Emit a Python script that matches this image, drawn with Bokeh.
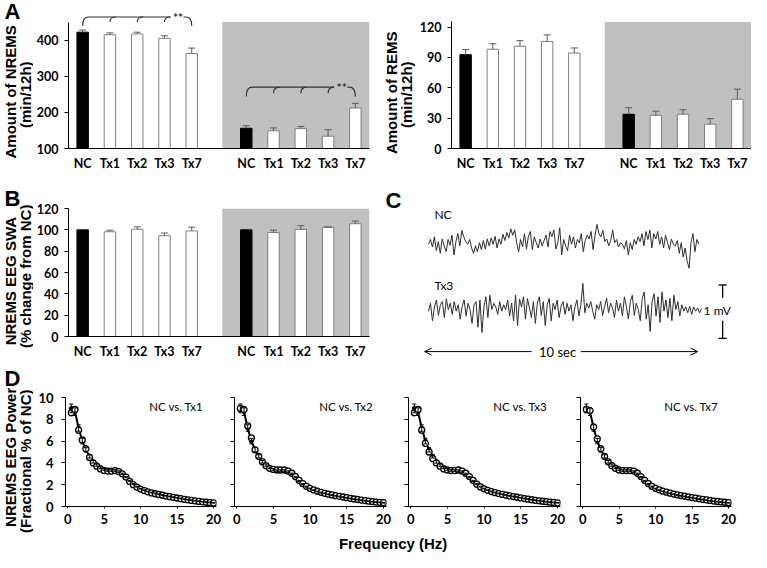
import math
import numpy as np
from bokeh.plotting import figure
from bokeh.layouts import column, row
from bokeh.models import (Range1d, FixedTicker, BoxAnnotation, Label, Whisker,
                          TeeHead, ColumnDataSource, Arrow, OpenHead)
from bokeh.core.properties import value
from bokeh.embed import file_html
from bokeh.resources import INLINE

# ---------------------------------------------------------------- data
categories = ["NC", "Tx1", "Tx2", "Tx3", "Tx7"]

nrems_light = [422, 415, 417, 405, 363]
nrems_light_sem = [6, 5, 5, 7, 15]
nrems_dark = [156, 149, 155, 134, 212]
nrems_dark_sem = [7, 8, 6, 18, 13]
nrems_ticks = [100, 200, 300, 400]

rems_light = [92.7, 98.0, 101.0, 105.7, 94.3]
rems_light_sem = [5.0, 5.5, 5.5, 6.5, 5.0]
rems_dark = [33.8, 32.8, 33.8, 24.0, 48.6]
rems_dark_sem = [6.5, 4.0, 4.5, 5.5, 10.0]
rems_ticks = [0, 30, 60, 90, 120]

swa_light = [100, 98.2, 100.6, 94.5, 99.0]
swa_light_sem = [0, 1.5, 2.2, 2.5, 3.5]
swa_dark = [100, 97.5, 100.4, 102.2, 105.7]
swa_dark_sem = [0, 2.2, 3.5, 0.6, 2.5]
swa_ticks = [0, 20, 40, 60, 80, 100, 120]

# significance brackets (NREMS): level of bracket line
sig_level_light = 464
sig_level_dark = 270

# EEG example traces (mV), 10 s epochs
nc_trace = [0.00, 0.09, -0.05, 0.14, -0.12, 0.05, -0.17, 0.10, -0.03, -0.14, 0.09, -0.02, 0.17, -0.20, 0.05, 0.20, -0.03, 0.26, 0.14, 0.05, 0.00, 0.09,
            -0.07, -0.17, -0.03, -0.14, 0.03, -0.10, 0.07, -0.09, 0.10, -0.03, 0.12, 0.00, 0.15, -0.07, 0.10, 0.00, 0.19, 0.07, 0.22, 0.12,
            0.29, 0.17, 0.27, 0.03, -0.14, 0.09, -0.05, 0.20, -0.09, 0.15, 0.24, -0.10, 0.14, 0.03, -0.07, 0.10, -0.03, 0.07, 0.17, -0.05,
            0.24, 0.14, 0.27, -0.09, 0.03, 0.31, -0.20, 0.09, -0.03, -0.12, 0.17, 0.00, 0.14, -0.07, 0.09, 0.03, 0.20, -0.14, 0.07, 0.17,
            0.10, 0.24, -0.10, 0.17, 0.37, 0.20, 0.14, 0.26, 0.05, 0.10, -0.03, 0.07, 0.27, 0.03, 0.09, -0.05, 0.03, 0.00, -0.09, 0.07,
            -0.20, 0.03, -0.10, 0.09, 0.00, 0.14, 0.05, 0.20, -0.03, 0.24, 0.09, 0.27, -0.07, 0.20, 0.10, 0.24, 0.00, 0.14, -0.07, 0.17,
            0.03, -0.10, 0.10, 0.00, -0.03, 0.07, -0.17, 0.03, -0.24, -0.07, -0.31, -0.45, 0.03, 0.20, -0.14, 0.09, 0.00]
tx3_trace = [0.00, 0.15, -0.18, 0.08, 0.21, -0.08, 0.12, 0.18, -0.12, 0.23, 0.03, 0.15, -0.06, 0.18, 0.00, 0.12, -0.15, 0.09, 0.21, -0.09,
             0.15, 0.03, -0.23, 0.12, 0.18, -0.30, 0.21, -0.40, 0.08, 0.27, -0.12, 0.30, 0.03, 0.15, 0.08, -0.06, 0.18, 0.00, 0.12, 0.03,
             0.21, -0.09, 0.15, -0.18, 0.30, -0.27, 0.23, 0.08, 0.27, -0.15, 0.24, 0.06, -0.12, 0.18, -0.23, 0.15, 0.27, -0.08, 0.18, -0.27,
             0.12, 0.24, -0.18, 0.15, 0.03, 0.21, -0.12, 0.09, 0.18, -0.06, 0.15, 0.00, 0.12, -0.18, 0.08, 0.21, -0.09, 0.12, 0.52, -0.03,
             0.15, 0.06, 0.18, 0.00, -0.15, 0.12, 0.03, 0.18, -0.08, 0.09, 0.24, -0.03, 0.15, 0.06, -0.12, 0.21, 0.00, 0.15, -0.09, 0.27,
             0.09, -0.15, 0.18, 0.30, -0.08, 0.15, 0.03, -0.18, 0.24, 0.36, -0.15, 0.12, -0.38, 0.18, 0.33, -0.09, 0.27, -0.21, 0.36, 0.00,
             0.21, -0.12, 0.24, -0.18, 0.30, 0.03, 0.18, -0.09, 0.12, 0.00, 0.08, -0.03, 0.09, -0.06, 0.08, 0.00, 0.06, -0.03, 0.05]
trace_duration_s = 10.0
scale_bar_mv = 1.0

# NREMS EEG power spectra (fractional % of NC)
freq_hz = [0.5, 1.0, 1.5, 2.0, 2.5, 3.0, 3.5, 4.0, 4.5, 5.0, 5.5, 6.0, 6.5, 7.0, 7.5, 8.0, 8.5, 9.0, 9.5, 10.0,
           10.5, 11.0, 11.5, 12.0, 12.5, 13.0, 13.5, 14.0, 14.5, 15.0, 15.5, 16.0, 16.5, 17.0, 17.5, 18.0, 18.5, 19.0, 19.5, 20.0]
power_nc = [9.0, 8.7, 7.2, 6.0, 5.2, 4.6, 4.1, 3.8, 3.55, 3.4, 3.3, 3.3, 3.3, 3.2, 3.0, 2.7, 2.35, 2.05, 1.82, 1.64,
            1.5, 1.38, 1.28, 1.2, 1.12, 1.05, 0.98, 0.92, 0.86, 0.8, 0.74, 0.68, 0.63, 0.58, 0.53, 0.48, 0.44, 0.4, 0.37, 0.34]
power_nc_sem = [0.4, 0.35, 0.3, 0.25, 0.2, 0.15, 0.12, 0.1, 0.08, 0.08, 0.07, 0.07, 0.07, 0.07, 0.06, 0.06, 0.05, 0.05, 0.04, 0.04,
                0.03, 0.03, 0.03, 0.03, 0.03, 0.03, 0.03, 0.03, 0.03, 0.03, 0.03, 0.03, 0.03, 0.03, 0.03, 0.03, 0.03, 0.03, 0.03, 0.03]
power_tx1 = [8.6, 8.9, 7.0, 6.1, 5.3, 4.5, 4.0, 3.7, 3.45, 3.3, 3.25, 3.25, 3.3, 3.2, 3.0, 2.7, 2.3, 2.0, 1.78, 1.6,
             1.46, 1.35, 1.25, 1.17, 1.1, 1.03, 0.96, 0.9, 0.84, 0.78, 0.72, 0.66, 0.61, 0.56, 0.51, 0.47, 0.43, 0.39, 0.36, 0.33]
power_tx2 = [9.0, 8.9, 7.4, 6.3, 5.2, 4.6, 4.1, 3.75, 3.5, 3.4, 3.35, 3.35, 3.35, 3.25, 3.05, 2.75, 2.4, 2.1, 1.85, 1.66,
             1.52, 1.4, 1.3, 1.21, 1.13, 1.06, 0.99, 0.93, 0.87, 0.81, 0.75, 0.69, 0.64, 0.59, 0.54, 0.49, 0.45, 0.41, 0.38, 0.35]
power_tx3 = [8.6, 8.9, 7.0, 5.8, 5.0, 4.4, 4.0, 3.7, 3.45, 3.35, 3.3, 3.3, 3.35, 3.25, 3.05, 2.75, 2.4, 2.05, 1.8, 1.62,
             1.48, 1.37, 1.27, 1.19, 1.11, 1.04, 0.97, 0.91, 0.85, 0.79, 0.73, 0.67, 0.62, 0.57, 0.52, 0.48, 0.44, 0.4, 0.37, 0.34]
power_tx7 = [8.9, 8.8, 7.3, 6.2, 5.3, 4.6, 4.1, 3.75, 3.5, 3.35, 3.3, 3.3, 3.3, 3.25, 3.05, 2.75, 2.4, 2.1, 1.85, 1.67,
             1.53, 1.41, 1.31, 1.22, 1.14, 1.07, 1.0, 0.94, 0.88, 0.82, 0.76, 0.7, 0.65, 0.6, 0.55, 0.5, 0.46, 0.42, 0.39, 0.36]
power_ticks_y = [0, 2, 4, 6, 8, 10]
freq_ticks = [0, 5, 10, 15, 20]

# ---------------------------------------------------------------- layout helpers
SX = 751 / 767
SY = 552 / 568
LABEL_FONT = "Liberation Sans"
TICK_FONT = "Lato"


def RX(v):
    return int(round(v * SX))


def RY(v):
    return int(round(v * SY))


def make_fig(box, frame, xr, yr, axes=True):
    bx0, bx1, by0, by1 = box
    fl, fr, ft, fb = frame
    kw = dict(width=RX(bx1) - RX(bx0), height=RY(by1) - RY(by0),
              x_range=Range1d(*xr), y_range=Range1d(*yr),
              output_backend="svg", toolbar_location=None,
              min_border_left=RX(fl) - RX(bx0), min_border_right=RX(bx1) - RX(fr),
              min_border_top=RY(ft) - RY(by0), min_border_bottom=RY(by1) - RY(fb),
              background_fill_color="white", border_fill_color="white",
              outline_line_color=None, frame_align=False)
    if not axes:
        kw.update(x_axis_type=None, y_axis_type=None)
    p = figure(**kw)
    p.grid.visible = False
    return p


def text_fig(box):
    """A figure whose frame is its whole box; data units are reference pixels."""
    return make_fig(box, box, (box[0], box[1]), (box[3], box[2]), axes=False)


def mapper(frame, xr, yr):
    fl, fr, ft, fb = frame

    def f(px, py):
        x = xr[0] + (px - fl) / (fr - fl) * (xr[1] - xr[0])
        y = yr[0] + (fb - py) / (fb - ft) * (yr[1] - yr[0])
        return x, y
    return f


def add_label(p, xy, text, size, bold=False, font=LABEL_FONT, align="left",
              baseline="middle", angle=0.0, color="black"):
    p.add_layout(Label(x=xy[0], y=xy[1], text=text, text_font=font,
                       text_font_size=f"{size}px",
                       text_font_style="bold" if bold else "normal",
                       text_align=align, text_baseline=baseline, angle=angle,
                       text_color=color))


def style_axes(p, size=12):
    for ax in p.axis:
        ax.axis_line_color = "black"
        ax.axis_line_width = 1
        ax.major_tick_line_color = "black"
        ax.minor_tick_line_color = None
        ax.major_label_text_font = TICK_FONT
        ax.major_label_text_font_style = "bold"
        ax.major_label_text_font_size = f"{size}px"
        ax.major_label_text_color = "black"


BAR_XR = (-0.52, 10.52)
positions = [i for i in range(5)] + [i + 6 for i in range(5)]


def bar_panel(box, frame, yr, y_axis_top, ticks, light, light_sem, dark, dark_sem):
    p = make_fig(box, frame, BAR_XR, yr)
    ymin = yr[0]
    p.add_layout(BoxAnnotation(left=5.12, right=BAR_XR[1], bottom=ymin, top=y_axis_top,
                               fill_color="#c0c0c0", fill_alpha=1.0, line_color=None,
                               level="underlay"))
    vals = list(light) + list(dark)
    sems = list(light_sem) + list(dark_sem)
    cats = categories * 2
    fills = ["black" if c == "NC" else "white" for c in cats]
    lines = ["black" if c == "NC" else "#7f7f7f" for c in cats]
    p.vbar(x=positions, top=vals, bottom=ymin, width=0.42,
           fill_color=fills, line_color=lines, line_width=1)
    keep = [i for i, s in enumerate(sems) if s > 0]
    src = ColumnDataSource(dict(x=[positions[i] for i in keep],
                                lower=[vals[i] for i in keep],
                                upper=[vals[i] + sems[i] for i in keep]))
    p.add_layout(Whisker(source=src, base="x", lower="lower", upper="upper",
                         line_color="#5a5a5a", line_width=1, lower_head=None,
                         upper_head=TeeHead(size=7, line_color="#5a5a5a", line_width=1),
                         level="overlay"))
    style_axes(p, 12.5)
    p.xaxis.ticker = FixedTicker(ticks=positions)
    p.xaxis.major_label_overrides = {pos: c for pos, c in zip(positions, cats)}
    p.xaxis.major_tick_out = 0
    p.xaxis.major_tick_in = 0
    p.xaxis.major_label_standoff = 7
    p.yaxis.ticker = FixedTicker(ticks=ticks)
    p.yaxis.bounds = (ymin, y_axis_top)
    p.yaxis.major_tick_out = 4
    p.yaxis.major_tick_in = 0
    p.yaxis.major_label_standoff = 6
    return p


def sig_bracket(p, xs, level, drop_end, drop_mid):
    dx = 0.22
    x0 = [xs[0]] + list(xs[1:4]) + [xs[4] - dx]
    y0 = [level - drop_end] + [level - drop_mid] * 3 + [level]
    x1 = [xs[0] + dx] + [x + dx for x in xs[1:4]] + [xs[4]]
    y1 = [level] * 4 + [level - drop_end]
    cx = [xs[0]] + list(xs[1:4]) + [xs[4]]
    cy = [level] * 5
    p.quadratic(x0=x0, y0=y0, x1=x1, y1=y1, cx=cx, cy=cy, line_color="#303030", line_width=1.2)
    p.segment(x0=[xs[0] + dx, xs[4] - dx - 0.08], y0=[level, level],
              x1=[xs[3] + dx, xs[4] - dx], y1=[level, level],
              line_color="#303030", line_width=1.2)
    p.text(x=[xs[3] + 0.5], y=[level], text=["**"], text_font=value(TICK_FONT),
           text_font_style="bold", text_font_size="12px", text_align="center",
           text_baseline="middle", text_color="#303030")


ROT = math.pi / 2

# ---------------------------------------------------------------- row 1 : panel A
LA1_box = (0, 34, 0, 178)
pLA1 = text_fig(LA1_box)
add_label(pLA1, (4, 11), "A", 22, bold=True)
add_label(pLA1, (10, 94), "Amount of NREMS", 15, bold=True, align="center", angle=ROT)
add_label(pLA1, (26, 97), "(min/12h)", 15, bold=True, align="center", angle=ROT)

A1_box, A1_frame, A1_yr = (34, 390, 0, 178), (68, 377, 10, 154), (100, 482)
pA1 = bar_panel(A1_box, A1_frame, A1_yr, 450, nrems_ticks,
                nrems_light, nrems_light_sem, nrems_dark, nrems_dark_sem)
sig_bracket(pA1, positions[:5], sig_level_light, 24, 14)
sig_bracket(pA1, positions[5:], sig_level_dark, 26, 17)

LA2_box = (390, 425, 0, 178)
pLA2 = text_fig(LA2_box)
add_label(pLA2, (399, 95), "Amount of REMS", 15, bold=True, align="center", angle=ROT)
add_label(pLA2, (415, 97), "(min/12h)", 15, bold=True, align="center", angle=ROT)

A2_box, A2_frame, A2_yr = (425, 767, 0, 178), (458, 767, 10, 154), (0, 136.3)
pA2 = bar_panel(A2_box, A2_frame, A2_yr, 125, rems_ticks,
                rems_light, rems_light_sem, rems_dark, rems_dark_sem)

# ---------------------------------------------------------------- row 2 : panel B
LB_box = (0, 34, 178, 375)
pLB = text_fig(LB_box)
add_label(pLB, (4, 204), "B", 22, bold=True)
add_label(pLB, (10, 289), "NREMS EEG SWA", 15, bold=True, align="center", angle=ROT)
add_label(pLB, (26, 284), "(% change from NC)", 15, bold=True, align="center", angle=ROT)

B_box, B_frame, B_yr = (34, 390, 178, 375), (68, 377, 214, 346), (0, 120)
pB = bar_panel(B_box, B_frame, B_yr, 120, swa_ticks,
               swa_light, swa_light_sem, swa_dark, swa_dark_sem)

# ---------------------------------------------------------------- row 2 : panel C
C_box = (390, 767, 178, 375)
C_frame = C_box[:]
C_T0_PX, C_PX_PER_S, C_PX_PER_MV = 433, 27.9, 55.0
C_xr = ((390 - C_T0_PX) / C_PX_PER_S, (767 - C_T0_PX) / C_PX_PER_S)
C_yr = (0, (375 - 178) / C_PX_PER_MV)
pC = make_fig(C_box, C_frame, C_xr, C_yr, axes=False)
mC = mapper(C_frame, C_xr, C_yr)
nc_base = mC(0, 251)[1]
tx3_base = mC(0, 320)[1]
t_start = mC(437, 0)[0]
t_nc = np.linspace(t_start, t_start + trace_duration_s * 0.99, len(nc_trace))
t_tx = np.linspace(t_start, t_start + trace_duration_s, len(tx3_trace))
pC.line(t_nc, np.array(nc_trace) + nc_base, line_color="#2e2e2e", line_width=1)
pC.line(t_tx, np.array(tx3_trace) + tx3_base, line_color="#2e2e2e", line_width=1)
add_label(pC, mC(393, 206), "C", 22, bold=True)
add_label(pC, mC(443, 220), "NC", 12, font=TICK_FONT)
add_label(pC, mC(443, 294), "Tx3", 12, font=TICK_FONT)
# 1 mV scale bar
sb_x, sb_bot = mC(737.5, 348)
sb_top = sb_bot + scale_bar_mv
cap = 0.15
pC.segment(x0=[sb_x, sb_x, sb_x - cap, sb_x - cap],
           y0=[sb_top, sb_bot, sb_top, sb_bot],
           x1=[sb_x, sb_x, sb_x + cap, sb_x + cap],
           y1=[sb_top - 0.24 * scale_bar_mv, sb_bot + 0.33 * scale_bar_mv, sb_top, sb_bot],
           line_color="black", line_width=1.3)
add_label(pC, (mC(732, 0)[0], (sb_top + sb_bot) / 2 + 0.02), "1 mV", 12, font=TICK_FONT, align="center")
# 10 s arrow
arr_y = mC(0, 361.7)[1]
t_mid = trace_duration_s / 2 - 0.13
pC.add_layout(Arrow(x_start=t_mid - 0.95, y_start=arr_y, x_end=0, y_end=arr_y,
                    line_color="black", line_width=1,
                    end=OpenHead(size=7, line_color="black", line_width=1)))
pC.add_layout(Arrow(x_start=t_mid + 0.85, y_start=arr_y, x_end=trace_duration_s, y_end=arr_y,
                    line_color="black", line_width=1,
                    end=OpenHead(size=7, line_color="black", line_width=1)))
add_label(pC, (t_mid, arr_y), "10 sec", 13, font=TICK_FONT, align="center")

# ---------------------------------------------------------------- row 3 : panel D
LD_box = (0, 34, 375, 548)
pLD = text_fig(LD_box)
add_label(pLD, (4, 389), "D", 22, bold=True)
add_label(pLD, (10, 470), "NREMS EEG Power", 15, bold=True, align="center", angle=ROT)
add_label(pLD, (26, 474), "(Fractional % of NC)", 15, bold=True, align="center", angle=ROT)

D_xr, D_yr = (-0.3, 20.4), (0, 10)
D_specs = [((34, 228, 375, 548), (66, 221, 409, 521), power_tx1, "Tx1"),
           ((228, 404, 375, 548), (239, 394, 409, 521), power_tx2, "Tx2"),
           ((404, 579, 375, 548), (417, 572, 409, 521), power_tx3, "Tx3"),
           ((579, 767, 375, 548), (592, 747, 409, 521), power_tx7, "Tx7")]
d_figs = []
for k, (box, frame, tx_vals, name) in enumerate(D_specs):
    p = make_fig(box, frame, D_xr, D_yr)
    nc = np.array(power_nc)
    se = np.array(power_nc_sem)
    src = ColumnDataSource(dict(x=freq_hz, lower=nc - se, upper=nc + se))
    p.add_layout(Whisker(source=src, base="x", lower="lower", upper="upper",
                         line_color="black", line_width=1,
                         lower_head=TeeHead(size=4, line_color="black"),
                         upper_head=TeeHead(size=4, line_color="black"), level="glyph"))
    p.line(freq_hz, power_nc, line_color="black", line_width=2)
    p.scatter(freq_hz, power_nc, marker="circle", size=4, fill_color="black", line_color="black")
    p.scatter(freq_hz, tx_vals, marker="circle", size=6, fill_color="white",
              line_color="black", line_width=1.3)
    style_axes(p, 13)
    p.xaxis.ticker = FixedTicker(ticks=freq_ticks)
    p.xaxis.major_tick_out = 2
    p.xaxis.major_tick_in = 0
    p.xaxis.major_label_standoff = 5
    p.yaxis.ticker = FixedTicker(ticks=power_ticks_y)
    p.yaxis.bounds = (0, 10)
    p.yaxis.major_tick_out = 4
    p.yaxis.major_tick_in = 0
    p.yaxis.major_label_standoff = 8
    if k > 0:
        p.yaxis.major_label_overrides = {t: "" for t in power_ticks_y}
        p.yaxis.major_label_text_font_size = "0px"
    add_label(p, (18.6, 9.2), "NC vs. " + name, 11.5, font=TICK_FONT, align="right")
    d_figs.append(p)

# ---------------------------------------------------------------- shared x label
F_box = (0, 767, 548, 568)
pF = text_fig(F_box)
add_label(pF, (401, 558), "Frequency (Hz)", 15, bold=True, align="center")

layout = column(row(pLA1, pA1, pLA2, pA2),
                row(pLB, pB, pC),
                row(pLD, *d_figs),
                pF)

open("out.html", "w").write(file_html(layout, INLINE))
